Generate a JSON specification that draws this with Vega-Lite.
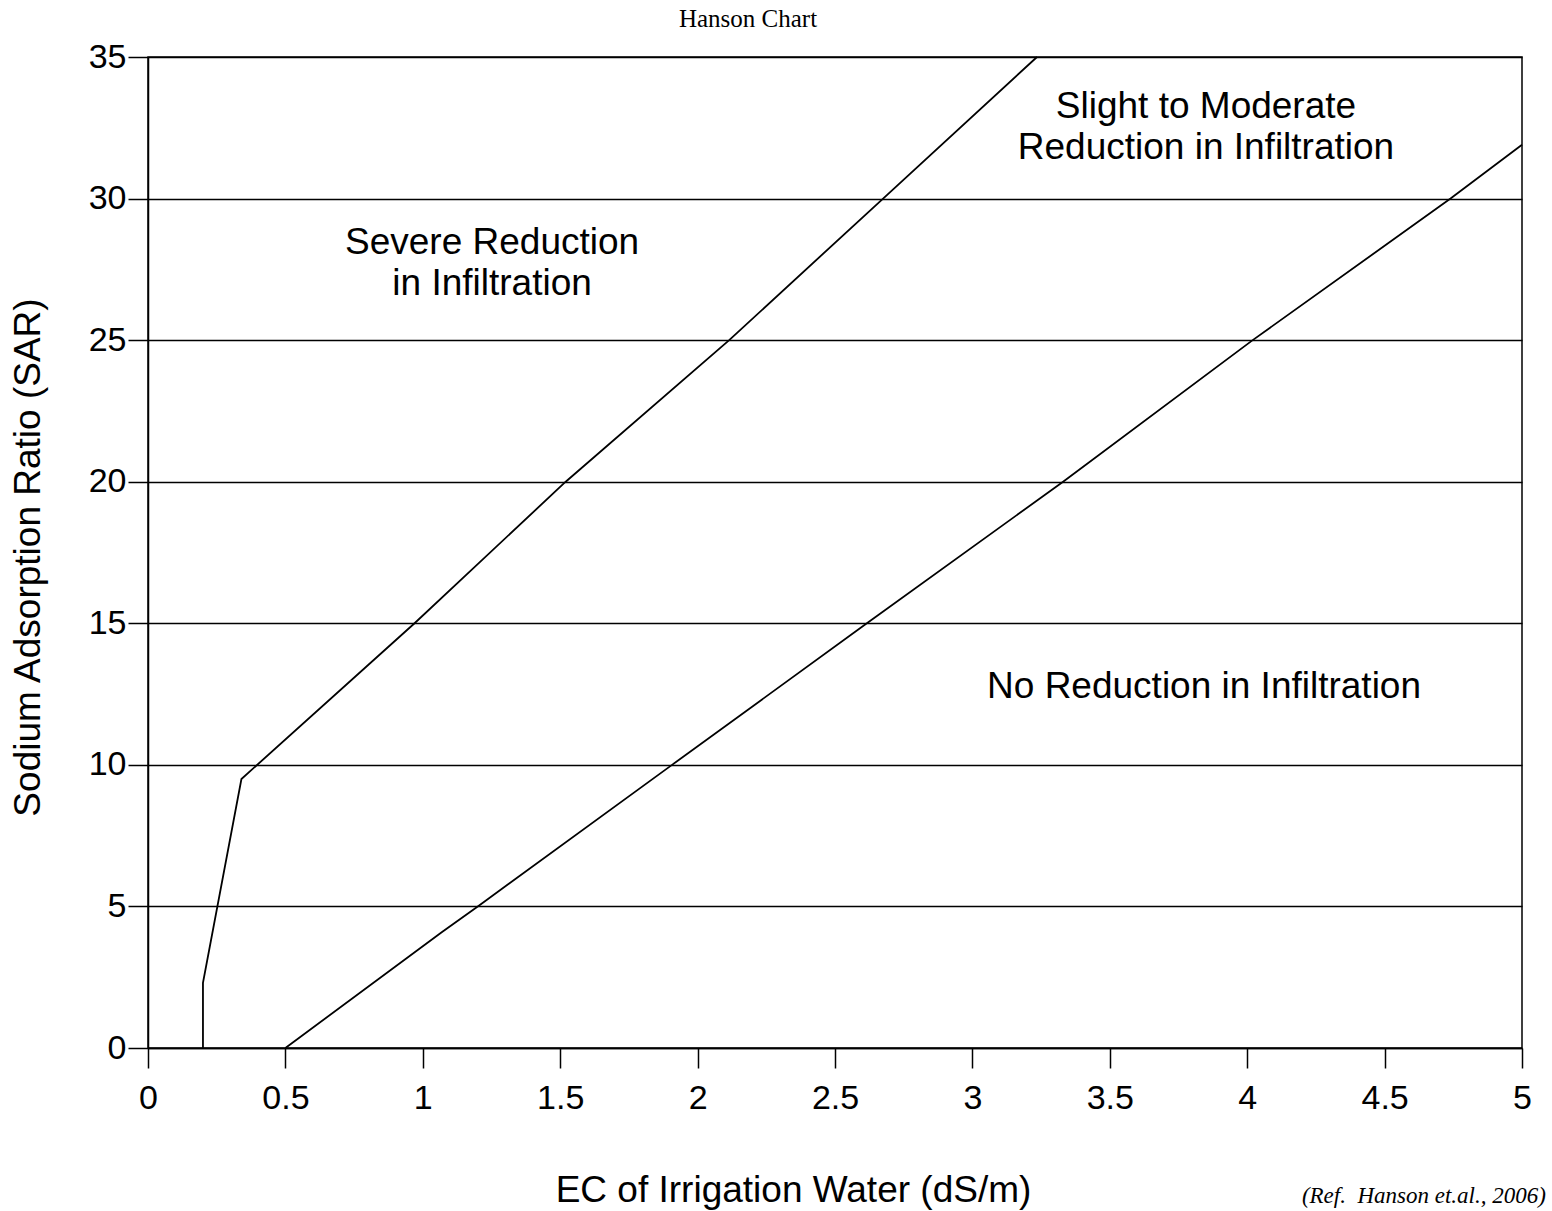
{
  "$schema": "https://vega.github.io/schema/vega-lite/v6.json",
  "width": 1374,
  "height": 991,
  "autosize": "none",
  "padding": {"left": 148, "top": 57, "right": 30, "bottom": 163},
  "background": "white",
  "config": {
    "view": {"stroke": "black", "strokeWidth": 1.5},
    "font": "Liberation Sans"
  },
  "title": {
    "text": "Hanson Chart",
    "font": "Liberation Serif",
    "fontSize": 25,
    "fontWeight": "normal",
    "color": "black",
    "anchor": "middle",
    "dx": -87,
    "dy": 24,
    "baseline": "alphabetic",
    "offset": 12
  },
  "datasets": {
    "lines": [
      {"boundary": "severe", "ord": 1, "ec": 0.2, "sar": 0},
      {"boundary": "severe", "ord": 2, "ec": 0.2, "sar": 2.3},
      {"boundary": "severe", "ord": 3, "ec": 0.34, "sar": 9.5},
      {"boundary": "severe", "ord": 4, "ec": 0.97, "sar": 15},
      {"boundary": "severe", "ord": 5, "ec": 1.52, "sar": 20},
      {"boundary": "severe", "ord": 6, "ec": 2.115, "sar": 25},
      {"boundary": "severe", "ord": 7, "ec": 2.675, "sar": 30},
      {"boundary": "severe", "ord": 8, "ec": 3.235, "sar": 35},
      {"boundary": "none", "ord": 1, "ec": 0.5, "sar": 0},
      {"boundary": "none", "ord": 2, "ec": 1.07, "sar": 4.1},
      {"boundary": "none", "ord": 3, "ec": 1.2, "sar": 5},
      {"boundary": "none", "ord": 4, "ec": 1.907, "sar": 10},
      {"boundary": "none", "ord": 5, "ec": 2.616, "sar": 15},
      {"boundary": "none", "ord": 6, "ec": 3.33, "sar": 20},
      {"boundary": "none", "ord": 7, "ec": 4.02, "sar": 25},
      {"boundary": "none", "ord": 8, "ec": 4.74, "sar": 30},
      {"boundary": "none", "ord": 9, "ec": 5.0, "sar": 31.9}
    ],
    "labels": [
      {"ec": 1.252, "sar": 28.04, "label": "Severe Reduction"},
      {"ec": 1.252, "sar": 26.6, "label": "in Infiltration"},
      {"ec": 3.85, "sar": 32.83, "label": "Slight to Moderate"},
      {"ec": 3.85, "sar": 31.41, "label": "Reduction in Infiltration"},
      {"ec": 3.843, "sar": 12.36, "label": "No Reduction in Infiltration"}
    ],
    "ref": [
      {"ec": 5.087, "sar": -5.47, "label": "(Ref.\u00a0 Hanson et.al., 2006)"}
    ]
  },
  "layer": [
    {
      "data": {"name": "lines"},
      "mark": {"type": "line", "color": "black", "strokeWidth": 1.8},
      "encoding": {
        "x": {
          "field": "ec", "type": "quantitative",
          "scale": {"domain": [0, 5], "nice": false, "zero": false},
          "axis": {
            "title": "EC of Irrigation Water (dS/m)",
            "values": [0, 0.5, 1, 1.5, 2, 2.5, 3, 3.5, 4, 4.5, 5],
            "format": "~g",
            "grid": false,
            "domainColor": "black", "domainWidth": 1.5,
            "tickColor": "black", "tickWidth": 1.5, "tickSize": 20,
            "labelFontSize": 34, "labelColor": "black", "labelPadding": 13,
            "labelFont": "Liberation Sans", "labelFlush": false, "labelOverlap": false,
            "titleFont": "Liberation Sans", "titleFontSize": 37, "titleFontWeight": "normal",
            "titleColor": "black", "titleX": 645, "titleY": 153,
            "titleBaseline": "alphabetic", "titleAlign": "center"
          }
        },
        "y": {
          "field": "sar", "type": "quantitative",
          "scale": {"domain": [0, 35], "nice": false, "zero": false},
          "axis": {
            "title": "Sodium Adsorption Ratio (SAR)",
            "values": [0, 5, 10, 15, 20, 25, 30, 35],
            "grid": true, "gridColor": "black", "gridWidth": 1.5, "gridOpacity": 1,
            "domainColor": "black", "domainWidth": 1.5,
            "tickColor": "black", "tickWidth": 1.5, "tickSize": 20,
            "labelFontSize": 34, "labelColor": "black", "labelPadding": 2,
            "labelFont": "Liberation Sans", "labelFlush": false, "labelOverlap": false,
            "titleFont": "Liberation Sans", "titleFontSize": 37, "titleFontWeight": "normal",
            "titleColor": "black", "titleX": -120, "titleY": 500,
            "titleBaseline": "middle", "titleAlign": "center", "titleAngle": -90
          }
        },
        "detail": {"field": "boundary", "type": "nominal"},
        "order": {"field": "ord", "type": "quantitative"}
      }
    },
    {
      "data": {"name": "labels"},
      "mark": {"type": "text", "font": "Liberation Sans", "fontSize": 37, "color": "black", "align": "center", "baseline": "alphabetic"},
      "encoding": {
        "x": {"field": "ec", "type": "quantitative"},
        "y": {"field": "sar", "type": "quantitative"},
        "text": {"field": "label"}
      }
    },
    {
      "data": {"name": "ref"},
      "mark": {"type": "text", "font": "Liberation Serif", "fontSize": 23, "fontStyle": "italic", "color": "black", "align": "right", "baseline": "alphabetic"},
      "encoding": {
        "x": {"field": "ec", "type": "quantitative"},
        "y": {"field": "sar", "type": "quantitative"},
        "text": {"field": "label"}
      }
    }
  ]
}
